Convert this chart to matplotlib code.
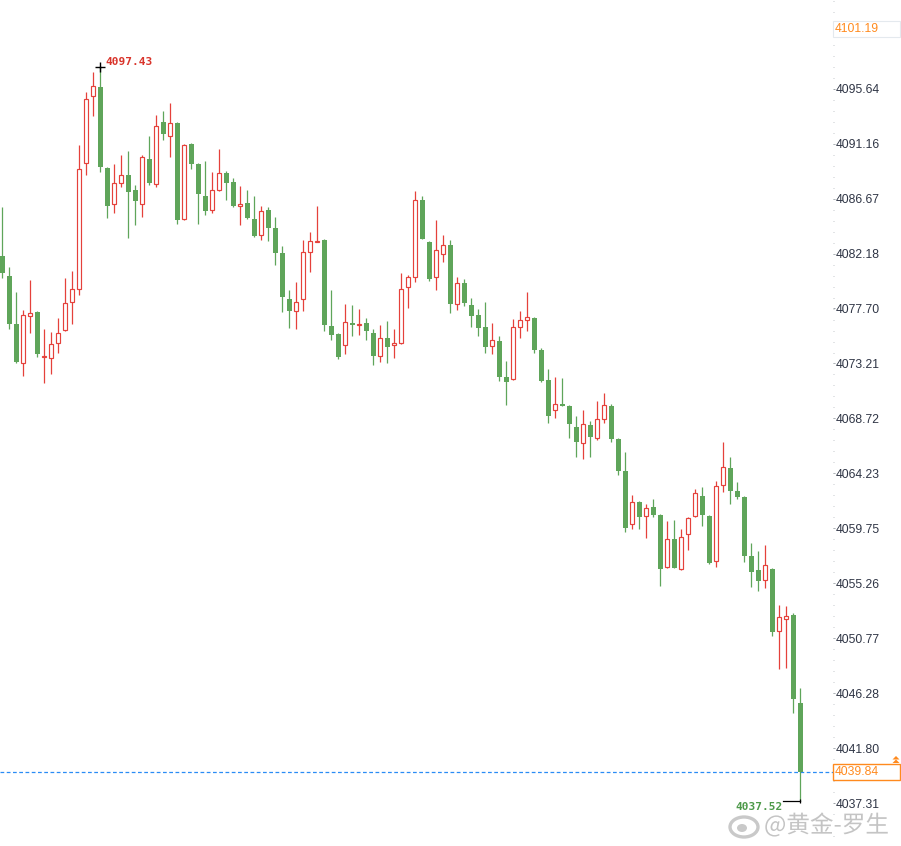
import numpy as np
import matplotlib
matplotlib.use("Agg")
import matplotlib.pyplot as plt
from matplotlib.patches import Rectangle, Ellipse, Polygon
import matplotlib.patheffects as pe

# 1-minute style candles
opens = [4081.98, 4080.34, 4076.43, 4073.27, 4077.10, 4077.41, 4073.71, 4073.63, 4074.85, 4075.91,
         4078.25, 4079.26, 4089.54, 4095.01, 4095.75, 4089.16, 4086.20, 4087.91, 4088.56, 4087.34,
         4086.20, 4089.87, 4087.83, 4092.89, 4091.75, 4092.83, 4084.97, 4091.12, 4089.48, 4086.87,
         4085.71, 4087.39, 4088.75, 4088.02, 4086.03, 4086.30, 4085.00, 4083.67, 4085.73, 4084.26,
         4082.22, 4078.47, 4077.51, 4078.44, 4082.28, 4083.09, 4083.28, 4076.26, 4075.61, 4074.69,
         4076.51, 4076.37, 4076.51, 4075.69, 4073.84, 4075.28, 4074.69, 4074.90, 4079.42, 4080.24,
         4086.55, 4083.12, 4080.29, 4082.11, 4082.87, 4078.03, 4079.77, 4077.98, 4077.16, 4076.18,
         4074.61, 4075.04, 4072.10, 4071.91, 4076.16, 4076.78, 4076.92, 4074.30, 4071.85, 4069.38,
         4069.90, 4069.73, 4068.02, 4066.74, 4068.18, 4067.15, 4068.65, 4069.73, 4067.04, 4064.43,
         4060.08, 4061.87, 4060.73, 4061.46, 4060.84, 4056.57, 4058.88, 4056.45, 4059.26, 4060.73,
         4062.39, 4060.75, 4057.06, 4063.26, 4064.65, 4062.80, 4062.31, 4057.49, 4056.35, 4055.51,
         4056.43, 4051.34, 4052.37, 4052.67, 4045.49]
highs = [4086.00, 4081.08, 4079.04, 4077.57, 4080.02, 4077.49, 4076.02, 4075.77, 4076.92, 4080.18,
         4080.75, 4091.04, 4095.39, 4097.02, 4097.43, 4089.24, 4089.48, 4090.22, 4090.55, 4087.77,
         4090.22, 4091.77, 4093.48, 4093.81, 4094.46, 4092.91, 4091.12, 4091.20, 4089.57, 4089.73,
         4088.83, 4090.71, 4088.91, 4088.32, 4087.69, 4087.39, 4086.87, 4086.03, 4085.98, 4085.16,
         4082.79, 4079.20, 4079.85, 4083.28, 4083.93, 4086.08, 4083.36, 4079.20, 4075.67, 4078.06,
         4077.98, 4077.65, 4076.92, 4076.02, 4076.34, 4076.69, 4076.04, 4080.59, 4080.42, 4087.28,
         4086.90, 4083.20, 4084.91, 4083.69, 4083.28, 4080.26, 4080.10, 4078.57, 4077.65, 4078.22,
         4076.51, 4075.47, 4073.41, 4076.83, 4077.49, 4079.04, 4077.00, 4074.47, 4072.75, 4072.10,
         4072.02, 4069.79, 4068.92, 4069.41, 4068.51, 4070.14, 4070.79, 4069.87, 4067.12, 4065.98,
         4062.47, 4061.98, 4061.73, 4062.14, 4060.92, 4060.35, 4060.43, 4059.69, 4060.65, 4062.93,
         4063.12, 4060.84, 4063.61, 4066.79, 4065.57, 4063.53, 4062.36, 4058.55, 4057.90, 4058.39,
         4056.51, 4053.51, 4053.41, 4052.84, 4046.72]
lows = [4080.20, 4075.99, 4073.24, 4072.21, 4075.72, 4073.76, 4071.63, 4072.37, 4074.03, 4075.85,
        4076.43, 4078.82, 4088.61, 4093.43, 4088.86, 4085.10, 4085.51, 4087.58, 4083.47, 4084.53,
        4085.18, 4087.80, 4087.63, 4091.44, 4090.08, 4084.61, 4084.90, 4089.08, 4084.61, 4085.32,
        4085.51, 4087.31, 4086.55, 4085.98, 4084.53, 4085.00, 4083.57, 4083.31, 4083.24, 4081.27,
        4077.43, 4076.12, 4076.04, 4077.51, 4080.69, 4083.09, 4075.88, 4075.14, 4073.59, 4074.00,
        4075.47, 4075.55, 4075.14, 4073.10, 4073.35, 4073.27, 4073.67, 4074.83, 4077.76, 4079.88,
        4083.36, 4079.96, 4079.23, 4081.51, 4077.35, 4077.59, 4077.92, 4076.21, 4075.47, 4074.08,
        4073.95, 4071.80, 4069.84, 4071.85, 4075.31, 4075.88, 4074.08, 4071.73, 4068.37, 4068.78,
        4069.73, 4067.15, 4065.59, 4065.43, 4065.59, 4066.98, 4068.37, 4066.82, 4064.13, 4059.47,
        4059.67, 4059.72, 4058.98, 4060.70, 4055.07, 4056.51, 4056.51, 4056.32, 4058.00, 4060.67,
        4059.96, 4056.88, 4056.62, 4062.69, 4061.76, 4062.12, 4057.02, 4054.98, 4054.66, 4054.90,
        4050.99, 4048.24, 4048.37, 4044.70, 4037.52]
closes = [4080.61, 4076.45, 4073.35, 4077.14, 4077.30, 4074.00, 4073.81, 4074.77, 4075.67, 4078.12,
          4079.26, 4089.05, 4094.77, 4095.83, 4089.22, 4086.08, 4087.91, 4088.56, 4087.22, 4086.49,
          4090.03, 4087.96, 4092.56, 4091.96, 4092.81, 4084.94, 4091.01, 4089.51, 4087.06, 4085.67,
          4087.36, 4088.73, 4087.96, 4086.08, 4086.20, 4085.10, 4083.63, 4085.65, 4084.29, 4082.24,
          4078.65, 4077.51, 4078.20, 4082.30, 4083.18, 4083.18, 4076.37, 4075.55, 4073.76, 4076.56,
          4076.37, 4076.43, 4075.88, 4073.84, 4075.28, 4074.57, 4074.87, 4079.28, 4080.24, 4086.55,
          4083.39, 4080.12, 4082.44, 4082.85, 4078.08, 4079.75, 4078.16, 4077.10, 4076.12, 4074.57,
          4075.10, 4072.12, 4071.72, 4076.18, 4076.75, 4077.00, 4074.33, 4071.80, 4068.94, 4069.87,
          4069.76, 4068.29, 4066.82, 4068.24, 4067.23, 4068.65, 4069.79, 4067.06, 4064.45, 4059.80,
          4061.87, 4060.70, 4061.43, 4060.81, 4056.47, 4058.88, 4056.53, 4059.04, 4060.57, 4062.63,
          4060.86, 4056.94, 4063.18, 4064.73, 4062.82, 4062.33, 4057.51, 4056.21, 4055.47, 4056.73,
          4051.31, 4052.49, 4052.57, 4045.84, 4039.84]

axis_ticks = [4037.31, 4041.80, 4046.28, 4050.77, 4055.26, 4059.75, 4064.23,
              4068.72, 4073.21, 4077.70, 4082.18, 4086.67, 4091.16, 4095.64]
top_label = "4101.19"
last_price = closes[-1]

UP = "#e5413b"
DOWN = "#5fa55a"
ORANGE = "#ff8a1e"

W, H = 901, 846
fig = plt.figure(figsize=(W / 100, H / 100), dpi=100)
ax = fig.add_axes([0, 0, 833 / W, 1])

x = np.arange(len(opens))
o = np.array(opens)
c = np.array(closes)
hi = np.array(highs)
lo = np.array(lows)
up = c >= o

ax.vlines(x[up], lo[up], hi[up], color=UP, lw=0.9, zorder=2)
ax.vlines(x[~up], lo[~up], hi[~up], color=DOWN, lw=0.9, zorder=2)

body_lo = np.minimum(o, c)
body_h = np.maximum(np.abs(c - o), 0.09)
ax.bar(x[up], body_h[up], bottom=body_lo[up], width=0.58, facecolor="white",
       edgecolor=UP, linewidth=0.85, zorder=3)
ax.bar(x[~up], body_h[~up], bottom=body_lo[~up], width=0.7, color=DOWN,
       linewidth=0, zorder=3)

ax.axhline(last_price, color="#2a8cf5", lw=0.9, ls=(0, (3, 2)), zorder=1)

# max / min markers
imax = int(np.argmax(hi))
imin = int(np.argmin(lo))
ax.plot(imax, hi[imax], marker="+", color="black", ms=7, mew=1, zorder=4)
ax.annotate("%.2f" % hi[imax], xy=(imax, hi[imax]), xytext=(3.5, 1.2),
            textcoords="offset points", ha="left", va="baseline", color="#d9342b",
            fontsize=8, fontweight="bold", family="DejaVu Sans Mono")
ax.plot([imin - 2.4, imin], [lo[imin], lo[imin]], color="black", lw=0.9, zorder=4)
ax.plot(imin, lo[imin], marker="|", color="black", ms=3, mew=0.9, zorder=4)
ax.annotate("%.2f" % lo[imin], xy=(imin - 2.4, lo[imin]), xytext=(-0.5, -1),
            textcoords="offset points", ha="right", va="top", color="#4e9a4a",
            fontsize=8, fontweight="bold", family="DejaVu Sans Mono")

for s in ax.spines.values():
    s.set_visible(False)
ax.set_xticks([])
ax.yaxis.tick_right()
ax.set_yticks(axis_ticks)
ax.set_yticklabels(["%.2f" % t for t in axis_ticks])
step = (axis_ticks[-1] - axis_ticks[0]) / (len(axis_ticks) - 1)
ax.set_yticks(np.arange(axis_ticks[0] - 2 * step, axis_ticks[-1] + 2 * step, step / 5), minor=True)
ax.tick_params(axis="y", which="major", length=1.6, width=0.7, color="#9aa0a6", pad=0.4,
               labelsize=8.7, labelcolor="#2f3545")
ax.tick_params(axis="y", which="minor", length=1, width=0.7, color="#c4c8cc")
for t in ax.get_yticklabels():
    t.set_family("Liberation Sans")
# limits last: setting ticks outside the view would widen it
ax.set_xlim(-2.3 / 7, (833 - 2.3) / 7)
ax.set_ylim(4102.874 - H / 12.252, 4102.874)

# right-side price boxes
fig.add_artist(Rectangle((832.5 / W, 1 - 36.7 / H), 67.5 / W, 16 / H, transform=fig.transFigure,
                         facecolor="white", edgecolor="#e4e9ee", lw=0.8))
fig.text(834.5 / W, 1 - 28.9 / H, top_label, color=ORANGE, fontsize=8.7,
         family="Liberation Sans", va="center", ha="left")
fig.add_artist(Rectangle((832.5 / W, 1 - 780 / H), 67.5 / W, 16.5 / H, transform=fig.transFigure,
                         facecolor="white", edgecolor=ORANGE, lw=1))
fig.text(834.5 / W, 1 - 772 / H, "%.2f" % last_price, color=ORANGE, fontsize=8.7,
         family="Liberation Sans", va="center", ha="left")
for yy in (756, 759.5):
    fig.add_artist(Polygon([[892.5 / W, 1 - (yy + 3.5) / H], [899.5 / W, 1 - (yy + 3.5) / H],
                            [896 / W, 1 - yy / H]], closed=True, transform=fig.transFigure,
                           facecolor=ORANGE, edgecolor="none"))

# watermark
fig.add_artist(Ellipse((744 / W, 1 - 827 / H), 28 / W, 20 / H, transform=fig.transFigure,
                       facecolor="none", edgecolor="#c9c9c9", lw=2.4,
                       path_effects=[pe.withStroke(linewidth=4.5, foreground="white")]))
fig.add_artist(Ellipse((742 / W, 1 - 828 / H), 10 / W, 8 / H, transform=fig.transFigure,
                       facecolor="#c9c9c9", edgecolor="none"))
fig.text(764 / W, 1 - 825 / H, "@黄金-罗生", color="#c4c4c4", fontsize=17,
         family=["Noto Sans CJK SC", "DejaVu Sans"], va="center", ha="left",
         path_effects=[pe.withStroke(linewidth=3, foreground="white")])

fig.savefig("out.png", dpi=100, facecolor="white")
